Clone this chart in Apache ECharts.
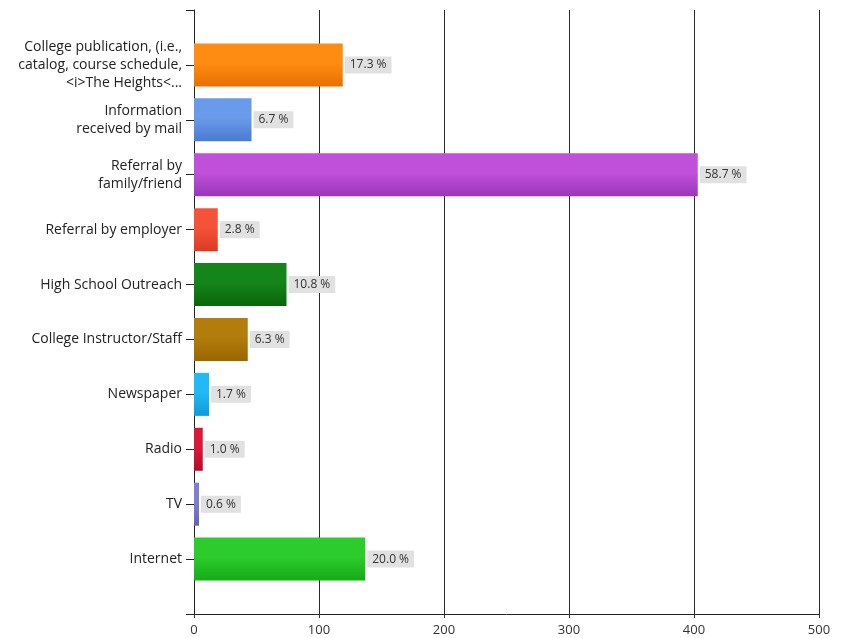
<!DOCTYPE html>
<html>
<head>
<meta charset="utf-8">
<script src="https://cdn.jsdelivr.net/npm/echarts@6/dist/echarts.min.js"></script>
<style>
  html, body { margin: 0; padding: 0; background: #fff; }
  #chart { width: 848px; height: 638px; }
</style>
</head>
<body>
<div id="chart"></div>
<script>
// How respondents heard about the college (multiple answers allowed)
const categories = [
  'College publication, (i.e.,\ncatalog, course schedule,\n<i>The Heights<...',
  'Information\nreceived by mail',
  'Referral by\nfamily/friend',
  'Referral by employer',
  'High School Outreach',
  'College Instructor/Staff',
  'Newspaper',
  'Radio',
  'TV',
  'Internet'
];
const counts = [119, 46, 403, 19, 74, 43, 12, 7, 4, 137];
const respondents = 686;
const xTicks = [0, 100, 200, 300, 400, 500];

// top / bottom shade of each bar
const barColors = [
  ['#ff8c12', '#e86f00'],
  ['#6a9bea', '#4a7ad2'],
  ['#c050da', '#9a36bc'],
  ['#f5523a', '#dc3a22'],
  ['#14851a', '#086608'],
  ['#b27d0c', '#9a6600'],
  ['#22baf4', '#0d9ad8'],
  ['#dc1838', '#b80a26'],
  ['#7f7fd2', '#6262b8'],
  ['#2ccc2c', '#16aa16']
];

// one empty slot above and below the bars
const yData = [''].concat(categories, ['']);
const seriesData = ['-'].concat(counts.map((v, i) => ({
  value: v,
  itemStyle: {
    color: new echarts.graphic.LinearGradient(0, 0, 0, 1, [
      { offset: 0, color: barColors[i][0] },
      { offset: 0.45, color: barColors[i][0] },
      { offset: 1, color: barColors[i][1] }
    ])
  }
})), ['-']);

const chart = echarts.init(document.getElementById('chart'));
chart.setOption({
  animation: false,
  textStyle: { fontFamily: 'Open Sans, Liberation Sans, Arial, sans-serif' },
  grid: { left: 194, right: 29, top: 10, bottom: 24, containLabel: false },
  xAxis: {
    type: 'value',
    min: xTicks[0],
    max: xTicks[xTicks.length - 1],
    interval: 100,
    axisLine: { show: true, lineStyle: { color: '#222', width: 1 } },
    axisTick: { show: true, length: 4, lineStyle: { color: '#333' } },
    axisLabel: { color: '#333', fontSize: 13, margin: 10 },
    splitLine: { show: true, lineStyle: { color: '#2a2a2a', width: 1 } }
  },
  yAxis: {
    type: 'category',
    inverse: true,
    boundaryGap: false,
    data: yData,
    axisLine: { show: true, lineStyle: { color: '#222', width: 1 } },
    axisTick: { show: true, length: 8, alignWithLabel: true, lineStyle: { color: '#222' } },
    axisLabel: { color: '#222', fontSize: 14, lineHeight: 18, margin: 12, align: 'right' },
    splitLine: { show: false }
  },
  series: [{
    type: 'bar',
    data: seriesData,
    barWidth: 43,
    z: 3,
    label: {
      show: true,
      position: 'right',
      distance: 2,
      formatter: p => (p.value / respondents * 100).toFixed(1) + ' %',
      fontSize: 12,
      lineHeight: 14,
      color: '#333',
      backgroundColor: '#e1e1e1',
      padding: [2, 5, 1, 5]
    }
  }]
});
</script>
</body>
</html>
